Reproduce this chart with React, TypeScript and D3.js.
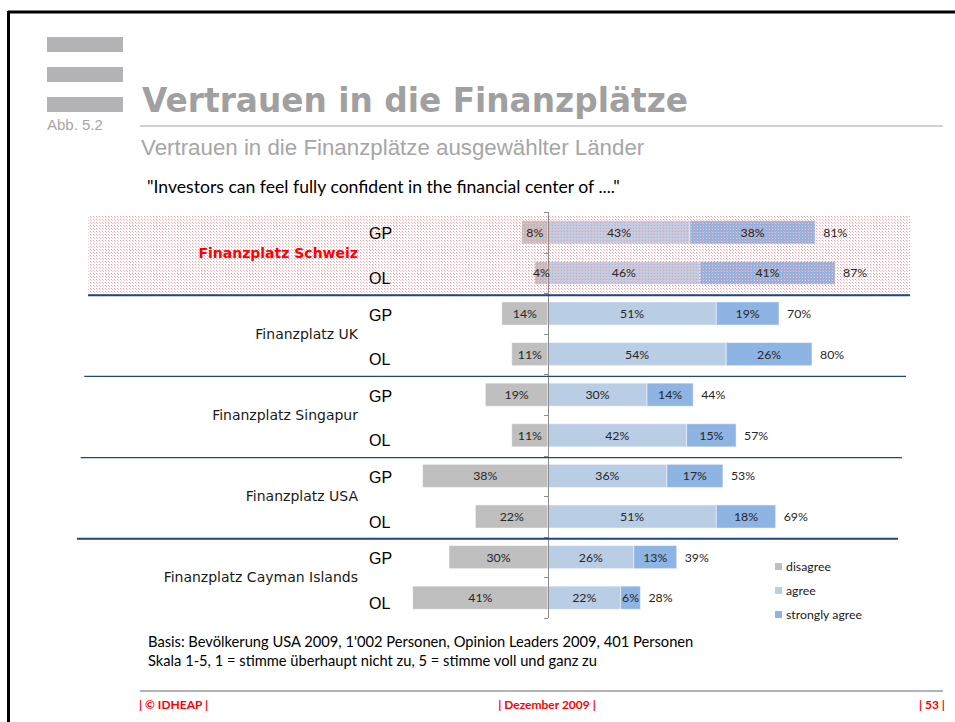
import * as d3 from "d3";

const W = 955;
const H = 722;

const countries = [
  "Finanzplatz Schweiz",
  "Finanzplatz UK",
  "Finanzplatz Singapur",
  "Finanzplatz USA",
  "Finanzplatz Cayman Islands",
];
const groups = ["GP", "OL"];
// one value per row: country x group (GP, OL)
const disagree = [8, 4, 14, 11, 19, 11, 38, 22, 30, 41];
const agree = [43, 46, 51, 54, 30, 42, 36, 51, 26, 22];
const stronglyAgree = [38, 41, 19, 26, 14, 15, 17, 18, 13, 6];
const totals = [81, 87, 70, 80, 44, 57, 53, 69, 39, 28];

const seriesNames = ["disagree", "agree", "strongly agree"];
const seriesColors = ["#bfbfbf", "#b9cde5", "#8eb4e3"];

const title = "Vertrauen in die Finanzplätze";
const subtitle = "Vertrauen in die Finanzplätze ausgewählter Länder";
const question = "\"Investors can feel fully confident in the financial center of ....\"";
const notes = [
  "Basis: Bevölkerung USA  2009, 1'002 Personen, Opinion Leaders 2009, 401 Personen",
  "Skala 1-5, 1 = stimme überhaupt nicht zu, 5 = stimme voll und ganz zu",
];
const footer = ["| © IDHEAP |", "| Dezember 2009 |", "| 53 |"];

const CAL = "Lato, 'Open Sans', sans-serif";
const ARIAL = "'Liberation Sans', Arial, sans-serif";
const VERD = "'DejaVu Sans', Verdana, sans-serif";

export default function App() {
  const rows = countries.flatMap((c) => groups.map((g) => `${c}|${g}`));

  const X0 = 548;
  const PX = 3.3;
  const x = d3
    .scaleLinear()
    .domain([-50, 100])
    .range([X0 - 50 * PX, X0 + 100 * PX]);

  const y = d3
    .scaleBand<string>()
    .domain(rows)
    .range([212, 618])
    .paddingInner(0.43)
    .paddingOuter(0.215);

  const bw = y.bandwidth();
  const gap = (y.step() - bw) / 2;
  const top = (r: string) => (y(r) ?? 0) - gap;

  const bars = rows.map((r, i) => {
    const segs = [
      { k: 0, x0: -disagree[i], x1: 0, v: disagree[i] },
      { k: 1, x0: 0, x1: agree[i], v: agree[i] },
      { k: 2, x0: agree[i], x1: agree[i] + stronglyAgree[i], v: stronglyAgree[i] },
    ];
    return { r, i, segs, end: agree[i] + stronglyAgree[i], cy: (y(r) ?? 0) + bw / 2 };
  });

  const ticks = [...rows.map(top), y.range()[1]];

  const bandTop = top(rows[0]) + 4;
  const bandBot = top(rows[2]) + 2;

  return (
    <svg
      width={W}
      height={H}
      style={{ position: "absolute", left: 0, top: 0, background: "#fff" }}
    >
      <defs>
        <pattern id="pinkdots" width={3} height={3} patternUnits="userSpaceOnUse">
          <rect x={0} y={0} width={1} height={1} fill="#f39aa2" />
          <rect x={1} y={1} width={1} height={1} fill="#f7c0c5" />
        </pattern>
      </defs>

      {/* page frame */}
      <line x1={8} x2={W} y1={12} y2={12} stroke="#000" strokeWidth={3} />
      <line x1={8.5} x2={8.5} y1={11} y2={H} stroke="#000" strokeWidth={3} />

      {/* header */}
      <g fill="#b3b3b5">
        {[37, 67, 97].map((t) => (
          <rect key={t} x={47} y={t} width={76} height={15} />
        ))}
      </g>
      <text x={47} y={130} fontFamily={ARIAL} fontSize={15} fill="#a6a6a6">
        Abb. 5.2
      </text>
      <text
        x={142}
        y={112}
        fontFamily={VERD}
        fontWeight="bold"
        fontSize={34}
        fill="#a0a0a0"
        textLength={546}
        lengthAdjust="spacingAndGlyphs"
      >
        {title}
      </text>
      <line x1={140} x2={943} y1={126} y2={126} stroke="#c0c0c0" strokeWidth={1.5} />
      <text x={141} y={155} fontFamily={ARIAL} fontSize={22.3} fill="#a6a6a6">
        {subtitle}
      </text>
      <text x={147} y={193} fontFamily={CAL} fontSize={17.6} fill="#000">
        {question}
      </text>

      {/* bars */}
      {bars.map((b) => (
        <g key={b.r}>
          {b.segs.map((s) => (
            <rect
              key={s.k}
              x={x(s.x0)}
              y={y(b.r)}
              width={x(s.x1) - x(s.x0)}
              height={bw}
              fill={seriesColors[s.k]}
              stroke="#fff"
              strokeOpacity={0.5}
              strokeWidth={1}
            />
          ))}
        </g>
      ))}

      {/* highlighted band */}
      <rect x={88} y={bandTop} width={910 - 88} height={bandBot - bandTop} fill="url(#pinkdots)" />

      {/* axis */}
      <g stroke="#8c8c8c" strokeWidth={1}>
        <line x1={X0 + 0.5} x2={X0 + 0.5} y1={ticks[0]} y2={ticks[ticks.length - 1]} />
        {ticks.map((t, i) => (
          <line key={i} x1={X0 - 4} x2={X0} y1={Math.round(t) + 0.5} y2={Math.round(t) + 0.5} />
        ))}
      </g>

      {/* separators */}
      {countries.slice(1).map((c, i) => (
        <line
          key={c}
          x1={88 - i * 3.7}
          x2={910 - i * 4}
          y1={top(`${c}|GP`) + 2}
          y2={top(`${c}|GP`) + 2}
          stroke="#1f497d"
          strokeWidth={i === 0 || i === 3 ? 2 : 1.2}
        />
      ))}

      {/* value labels */}
      <g fontFamily={CAL} fontSize={12.3} fill="#262626">
        {bars.map((b) => (
          <g key={b.r}>
            {b.segs.map((s) => (
              <text
                key={s.k}
                x={x((s.x0 + s.x1) / 2)}
                y={b.cy + 4.5}
                textAnchor="middle"
              >
                {s.v}%
              </text>
            ))}
            <text x={x(b.end) + 8} y={b.cy + 4.5}>
              {totals[b.i]}%
            </text>
          </g>
        ))}
      </g>

      {/* GP / OL labels */}
      <g fontFamily={ARIAL} fontSize={16} fill="#000">
        {bars.map((b) => {
          const g = b.r.split("|")[1];
          return (
            <text key={b.r} x={369} y={b.cy + (g === "GP" ? 7 : 11)}>
              {g}
            </text>
          );
        })}
      </g>

      {/* country labels */}
      {countries.map((c, i) => (
        <text
          key={c}
          x={358}
          y={top(`${c}|OL`) + 5}
          textAnchor="end"
          fontFamily={VERD}
          fontSize={14}
          fontWeight={i === 0 ? "bold" : "normal"}
          fill={i === 0 ? "#ff0000" : "#1a1a1a"}
        >
          {c}
        </text>
      ))}

      {/* legend */}
      <g fontFamily={CAL} fontSize={12.3} fill="#1a1a1a">
        {seriesNames.map((n, i) => (
          <g key={n} transform={`translate(775,${563 + i * 24})`}>
            <rect width={7} height={7} fill={seriesColors[i]} />
            <text x={11} y={8}>
              {n}
            </text>
          </g>
        ))}
      </g>

      {/* notes */}
      <g fontFamily={CAL} fontSize={14.7} fill="#000">
        {notes.map((n, i) => (
          <text key={i} x={148} y={647 + i * 19}>
            {n}
          </text>
        ))}
      </g>

      {/* footer */}
      <line x1={140} x2={943} y1={691} y2={691} stroke="#b3b3b5" strokeWidth={2} />
      <g fontFamily={CAL} fontSize={12} fontWeight="bold" fill="#ff0000">
        <text x={139} y={709}>{footer[0]}</text>
        <text x={547} y={709} textAnchor="middle">{footer[1]}</text>
        <text x={945} y={709} textAnchor="end">{footer[2]}</text>
      </g>
    </svg>
  );
}
